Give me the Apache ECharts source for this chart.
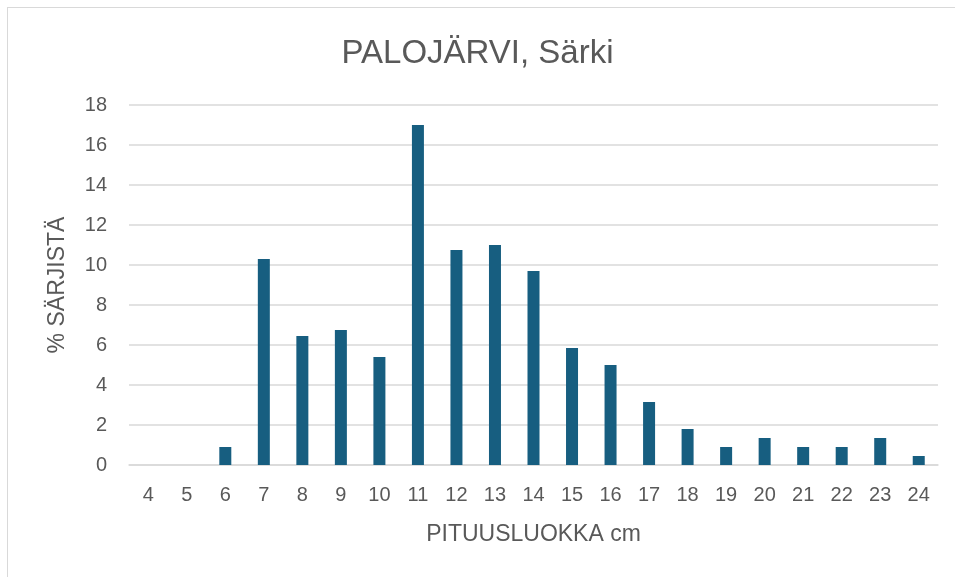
<!DOCTYPE html>
<html>
<head>
<meta charset="utf-8">
<script src="https://cdn.jsdelivr.net/npm/echarts@6/dist/echarts.min.js"></script>
<style>
  html, body { margin: 0; padding: 0; background: #fff; }
  #frame {
    position: absolute; left: 7px; top: 7px; width: 960px; height: 580px;
    border: 1px solid #d9d9d9; box-sizing: border-box;
  }
  #chart { position: absolute; left: 0; top: 0; width: 955px; height: 577px; }
</style>
</head>
<body>
<div id="frame"></div>
<div id="chart"></div>
<script>
// pituusluokat (cm) ja osuudet (%)
var categories = ['4', '5', '6', '7', '8', '9', '10', '11', '12', '13', '14',
                  '15', '16', '17', '18', '19', '20', '21', '22', '23', '24'];
var osuus = [0, 0, 0.9, 10.3, 6.45, 6.75, 5.4, 17.0, 10.75, 11.0, 9.7,
             5.85, 5.0, 3.15, 1.8, 0.9, 1.35, 0.9, 0.9, 1.35, 0.45];
var yTicks = { min: 0, max: 18, interval: 2 };

var textColor = '#595959';
var font = 'Liberation Sans, Arial, sans-serif';

var myChart = echarts.init(document.getElementById('chart'));
var option = {
    animation: false,
    title: {
        text: 'PALOJÄRVI, Särki',
        left: 'center',
        top: 32,
        textStyle: { color: textColor, fontSize: 33, fontWeight: 'normal', fontFamily: font }
    },
    grid: { left: 129, right: 17, top: 105, bottom: 112 },
    xAxis: {
        type: 'category',
        data: categories,
        name: 'PITUUSLUOKKA cm',
        nameLocation: 'middle',
        nameGap: 58,
        nameTextStyle: { color: textColor, fontSize: 23, fontFamily: font },
        axisLine: { lineStyle: { color: '#d9d9d9', width: 1.5 } },
        axisTick: { show: false },
        axisLabel: { color: textColor, fontSize: 20, margin: 20, fontFamily: font }
    },
    yAxis: {
        type: 'value',
        min: yTicks.min,
        max: yTicks.max,
        interval: yTicks.interval,
        name: '% SÄRJISTÄ',
        nameLocation: 'middle',
        nameGap: 60,
        nameTextStyle: { color: textColor, fontSize: 23, fontFamily: font },
        axisLine: { show: false },
        axisTick: { show: false },
        axisLabel: { color: textColor, fontSize: 20, margin: 22, fontFamily: font },
        splitLine: { lineStyle: { color: '#d9d9d9', width: 1.5 } }
    },
    series: [{
        type: 'bar',
        data: osuus,
        barWidth: 12,
        itemStyle: { color: '#175e80' }
    }]
};
myChart.setOption(option);
</script>
</body>
</html>
